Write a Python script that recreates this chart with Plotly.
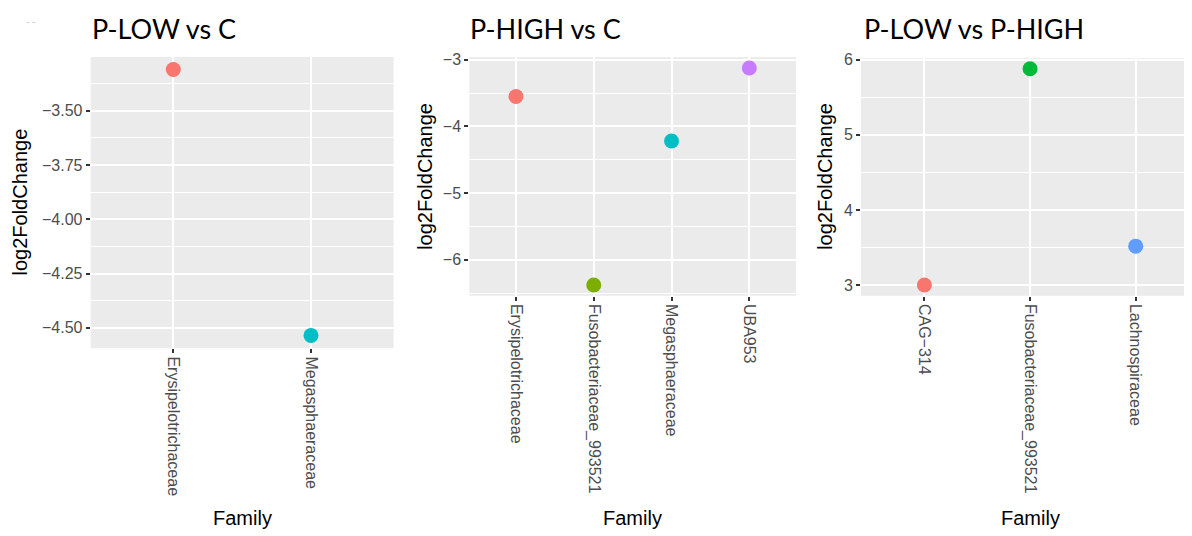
import plotly.graph_objects as go

# ---- data ----
p1_families = ["Erysipelotrichaceae", "Megasphaeraceae"]
p1_values = [-3.31, -4.535]
p1_colors = ["#F8766D", "#00BFC4"]

p2_families = ["Erysipelotrichaceae", "Fusobacteriaceae_993521", "Megasphaeraceae", "UBA953"]
p2_values = [-3.553, -6.38, -4.22, -3.125]
p2_colors = ["#F8766D", "#7CAE00", "#00BFC4", "#C77CFF"]

p3_families = ["CAG\u2212314", "Fusobacteriaceae_993521", "Lachnospiraceae"]
p3_values = [3.0, 5.88, 3.518]
p3_colors = ["#F8766D", "#00BA38", "#619CFF"]

titles = ["P-LOW vs C", "P-HIGH vs C", "P-LOW vs P-HIGH"]
y_title = "log2FoldChange"
x_title = "Family"

# page body has an 8px default margin; the figure fills the rest of the window
OFF = 8
W, H = 1192 - OFF, 536 - OFF
TICK_FONT = dict(family="Liberation Sans, Arial, sans-serif", size=16, color="#4D4D4D")
AX_FONT = dict(family="Liberation Sans, Arial, sans-serif", size=20, color="#000000")
TITLE_FONT = dict(family="Lato, Open Sans, sans-serif", size=27, color="#000000")

fig = go.Figure()

panels = [
    (p1_families, p1_values, p1_colors, "x", "y"),
    (p2_families, p2_values, p2_colors, "x2", "y2"),
    (p3_families, p3_values, p3_colors, "x3", "y3"),
]
for fams, vals, cols, xa, ya in panels:
    fig.add_trace(go.Scatter(
        x=fams, y=vals, mode="markers", xaxis=xa, yaxis=ya,
        marker=dict(size=15, color=cols, line=dict(width=0)),
        showlegend=False, hoverinfo="x+y"))

def px_x(v):
    return min(1.0, (v - OFF) / W)

def px_y(v):
    return 1 - (v - OFF) / H

common_x = dict(
    type="category", showgrid=True, gridcolor="white", gridwidth=1.6,
    zeroline=False, showline=False, ticks="outside", ticklen=4, tickwidth=1.5,
    tickcolor="#333333", tickangle=90, tickfont=TICK_FONT, fixedrange=True,
)
common_y = dict(
    showgrid=True, gridcolor="white", gridwidth=1.6, zeroline=False, showline=False,
    ticks="outside", ticklen=4, tickwidth=1.5, tickcolor="#333333",
    tickfont=TICK_FONT, fixedrange=True,
)

fig.update_layout(
    width=W, height=H,
    margin=dict(l=0, r=0, t=0, b=0),
    paper_bgcolor="white", plot_bgcolor="#EBEBEB",
    xaxis=dict(common_x, domain=[px_x(90.7), px_x(393.6)], range=[-0.6, 1.6],
               categoryorder="array", categoryarray=p1_families, anchor="y"),
    yaxis=dict(common_y, domain=[px_y(345.7), px_y(50.5)], range=[-4.594, -3.2523],
               tickmode="linear", tick0=-4.5, dtick=0.25, tickformat=".2f",
               minor=dict(dtick=0.125, tick0=-4.5, showgrid=True, gridcolor="white", gridwidth=0.8),
               anchor="x"),
    xaxis2=dict(common_x, domain=[px_x(469.3), px_x(796)], range=[-0.6, 3.6],
                categoryorder="array", categoryarray=p2_families, anchor="y2"),
    yaxis2=dict(common_y, domain=[px_y(292.5), px_y(50.7)], range=[-6.54, -2.962],
                tickmode="linear", tick0=-6, dtick=1,
                minor=dict(dtick=0.5, tick0=-6, showgrid=True, gridcolor="white", gridwidth=0.8),
                anchor="x2"),
    xaxis3=dict(common_x, domain=[px_x(861), 1.0], range=[-0.6, 2.533],
                categoryorder="array", categoryarray=p3_families, anchor="y3"),
    yaxis3=dict(common_y, domain=[px_y(292.5), px_y(51.7)], range=[2.858, 6.021],
                tickmode="linear", tick0=3, dtick=1,
                minor=dict(dtick=0.5, tick0=3, showgrid=True, gridcolor="white", gridwidth=0.8),
                anchor="x3"),
)

annotations = []
# panel titles
for tx, t in zip([90, 468, 862], titles):
    annotations.append(dict(text=t, x=px_x(tx), y=px_y(22), xref="paper", yref="paper",
                            xanchor="left", yanchor="middle", showarrow=False, font=TITLE_FONT))
# y axis titles
for xc, yc in [(20, 198), (425, 172), (825, 172)]:
    annotations.append(dict(text=y_title, x=px_x(xc), y=px_y(yc), xref="paper", yref="paper",
                            xanchor="center", yanchor="middle", textangle=-90,
                            showarrow=False, font=AX_FONT))
# x axis titles
for xc in [242, 632.6, 1030]:
    annotations.append(dict(text=x_title, x=px_x(xc), y=px_y(518), xref="paper", yref="paper",
                            xanchor="center", yanchor="middle", showarrow=False, font=AX_FONT))
# faint mark top-left
annotations.append(dict(text="- -", x=px_x(30), y=px_y(15), xref="paper", yref="paper",
                        xanchor="center", yanchor="middle", showarrow=False,
                        font=dict(family="Liberation Sans, Arial", size=10, color="#C8C8C8")))
fig.update_layout(annotations=annotations)

fig.write_html("out.html")
